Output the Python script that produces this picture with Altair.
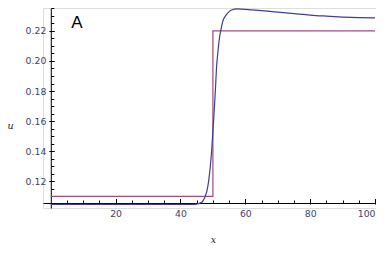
import altair as alt
import pandas as pd

# Blue curve (numerical solution)
curve_x = [0, 10, 20, 30, 40, 44, 45, 46, 47, 47.7, 48.2, 48.7, 49.2, 49.6, 50.0, 50.4,
           50.8, 51.1, 51.5, 52.0, 52.5, 53.0, 54.0, 55.0, 56.0, 57.5, 59, 62, 66, 70,
           75, 80, 85, 90, 95, 100]
curve_u = [0.1047, 0.1047, 0.1047, 0.1047, 0.1047, 0.1047, 0.1049, 0.1055, 0.1072, 0.1105,
           0.1140, 0.1205, 0.1300, 0.1400, 0.1530, 0.1670, 0.1820, 0.1950, 0.2050, 0.2150,
           0.2210, 0.2260, 0.2303, 0.2328, 0.2340, 0.2346, 0.2345, 0.2340, 0.2333, 0.2325,
           0.2315, 0.2305, 0.2298, 0.2292, 0.2288, 0.2286]

# Step (initial condition)
step_x = [0, 50, 100]
step_u = [0.11, 0.22, 0.22]

x_major = [20, 40, 60, 80, 100]
x_minor = [5, 10, 15, 25, 30, 35, 45, 50, 55, 65, 70, 75, 85, 90, 95]
y_major = [0.12, 0.14, 0.16, 0.18, 0.20, 0.22]
y_minor = [0.11, 0.115, 0.125, 0.13, 0.135, 0.145, 0.15, 0.155, 0.165, 0.17, 0.175,
           0.185, 0.19, 0.195, 0.205, 0.21, 0.215, 0.225, 0.23, 0.235]

curve = pd.DataFrame({"x": curve_x, "u": curve_u})
step = pd.DataFrame({"x": step_x, "u": step_u})

xs = alt.Scale(domain=[-2.4, 100.3], nice=False, zero=False)
ys = alt.Scale(domain=[0.10227, 0.2352], nice=False, zero=False)

LAB = dict(labelFont="DejaVu Sans", labelFontSize=9.3, labelColor="#3a4470")
TIT = dict(titleFont="DejaVu Serif", titleFontStyle="italic", titleFontWeight="normal",
           titleFontSize=9.5, titleColor="#222", titleAlign="center", titleBaseline="middle")

x_main = alt.Axis(values=x_major, offset=-5, ticks=False, grid=False, domain=True,
                  domainColor="black", domainWidth=1, labelPadding=6, title="x",
                  titleX=170, titleY=36, orient="bottom", **LAB, **TIT)
y_main = alt.Axis(values=y_major, format=".2f", offset=-7.8, ticks=False, grid=False,
                  domain=True, domainColor="black", domainWidth=1, labelPadding=5,
                  title="u", titleAngle=0, titleX=-40.8, titleY=117,
                  orient="left", **LAB, **TIT)

x_min_ax = alt.Axis(values=x_minor, offset=-8, tickSize=3, ticks=True, tickColor="black",
                    labels=False, domain=False, grid=False, title=None, orient="bottom")
y_min_ax = alt.Axis(values=y_minor, offset=-10.8, tickSize=3, ticks=True, tickColor="black",
                    labels=False, domain=False, grid=False, title=None, orient="left")
x_maj_ax = alt.Axis(values=x_major, offset=-9.5, tickSize=5.5, ticks=True, tickColor="black",
                    labels=False, domain=False, grid=False, title=None, orient="bottom")
y_maj_ax = alt.Axis(values=y_major, offset=-11.3, tickSize=5.5, ticks=True, tickColor="black",
                    labels=False, domain=False, grid=False, title=None, orient="left")

blue = alt.Chart(curve).mark_line(color="#3d3d99", strokeWidth=1.2, interpolate="monotone").encode(
    x=alt.X("x:Q", scale=xs, axis=x_main),
    y=alt.Y("u:Q", scale=ys, axis=y_main),
)

stepline = alt.Chart(step).mark_line(color="#a04a80", strokeWidth=1.2, interpolate="step-after").encode(
    x=alt.X("x:Q", scale=xs, axis=x_min_ax),
    y=alt.Y("u:Q", scale=ys, axis=y_min_ax),
)

ghost = alt.Chart(step).mark_point(opacity=0).encode(
    x=alt.X("x:Q", scale=xs, axis=x_maj_ax),
    y=alt.Y("u:Q", scale=ys, axis=y_maj_ax),
)

label = alt.Chart(pd.DataFrame({"t": ["A"]})).mark_text(
    font="Liberation Sans", fontSize=17, color="black", align="center", baseline="middle"
).encode(text="t:N", x=alt.value(34), y=alt.value(15))

chart = alt.layer(stepline, blue, ghost, label).resolve_axis(
    x="independent", y="independent"
).properties(
    width=333, height=200,
    padding={"left": 35, "top": 0, "right": 0, "bottom": 40},
    autosize=alt.AutoSizeParams(type="none"),
).configure_view(stroke=None).configure(background="white")

chart.save("out.html", embed_options={"renderer": "svg", "actions": False})
